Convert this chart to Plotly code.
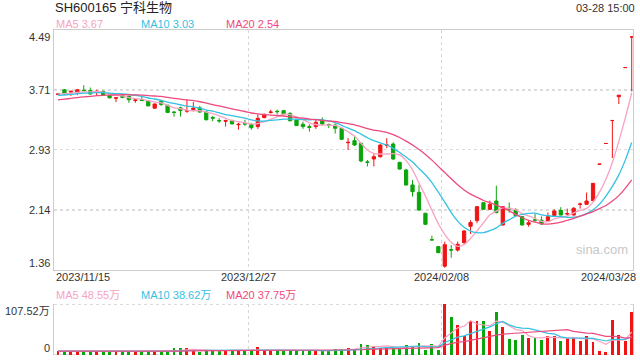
import plotly.graph_objects as go
import pandas as pd

# ---------------- data ----------------
x_labels = ["2023/11/15", "2023/12/27", "2024/02/08", "2024/03/28"]
x_label_pos = [0, 29.5, 59.5, 89]
y_ticks = [1.36, 2.14, 2.93, 3.71, 4.49]
vol_ticks = [0, 107.52]
vol_tick_text = ["0", "107.52万"]

open_ = [3.65, 3.71, 3.68, 3.67, 3.705, 3.70, 3.68, 3.69, 3.64, 3.60,
         3.635, 3.625, 3.57, 3.58, 3.56, 3.47, 3.56, 3.51, 3.42, 3.475,
         3.43, 3.45, 3.475, 3.42, 3.35, 3.31, 3.30, 3.31, 3.255, 3.27,
         3.26, 3.23, 3.347, 3.415, 3.43, 3.438, 3.40, 3.316, 3.26, 3.23,
         3.23, 3.316, 3.255, 3.25, 3.208, 3.02, 3.047, 3.012, 2.77, 2.808,
         2.838, 2.985, 3.003, 2.764, 2.664, 2.469, 2.373, 2.10, 1.755, 1.665,
         1.41, 1.625, 1.62, 1.717, 1.93, 2.004, 2.238, 2.151, 2.26, 1.947,
         2.165, 2.143, 2.056, 1.955, 2.015, 2.01, 2.00, 2.069, 2.138, 2.09,
         2.077, 2.215, 2.217, 2.264, 2.74, 3.01, 3.31, 3.62, 4.00, 4.40]
high = [3.66, 3.72, 3.70, 3.72, 3.77, 3.74, 3.71, 3.70, 3.645, 3.61,
        3.645, 3.63, 3.60, 3.62, 3.565, 3.53, 3.58, 3.51, 3.43, 3.49,
        3.58, 3.55, 3.50, 3.43, 3.37, 3.34, 3.32, 3.32, 3.28, 3.32,
        3.27, 3.39, 3.40, 3.45, 3.45, 3.44, 3.42, 3.32, 3.295, 3.26,
        3.32, 3.35, 3.27, 3.27, 3.21, 3.08, 3.10, 3.02, 2.795, 2.87,
        3.00, 3.08, 3.025, 2.77, 2.68, 2.534, 2.47, 2.10, 1.808, 1.67,
        1.73, 1.686, 1.73, 1.88, 2.01, 2.19, 2.24, 2.265, 2.46, 2.19,
        2.24, 2.165, 2.06, 2.01, 2.09, 2.06, 2.11, 2.15, 2.18, 2.16,
        2.18, 2.24, 2.37, 2.49, 2.74, 3.01, 3.31, 3.64, 4.00, 4.40]
low = [3.64, 3.65, 3.63, 3.64, 3.69, 3.65, 3.64, 3.63, 3.60, 3.55,
       3.60, 3.54, 3.54, 3.565, 3.50, 3.47, 3.50, 3.41, 3.36, 3.36,
       3.41, 3.43, 3.41, 3.31, 3.30, 3.28, 3.23, 3.26, 3.19, 3.24,
       3.19, 3.20, 3.34, 3.40, 3.39, 3.39, 3.295, 3.24, 3.20, 3.165,
       3.20, 3.25, 3.21, 3.14, 3.06, 2.925, 2.98, 2.764, 2.71, 2.71,
       2.825, 2.95, 2.795, 2.67, 2.46, 2.317, 2.13, 1.95, 1.752, 1.58,
       1.39, 1.52, 1.60, 1.70, 1.83, 1.97, 2.145, 2.143, 2.10, 1.94,
       2.108, 2.055, 1.94, 1.925, 1.99, 1.95, 1.99, 2.06, 2.073, 2.07,
       2.07, 2.16, 2.21, 2.26, 2.74, 3.01, 2.82, 3.525, 4.00, 3.69]
close = [3.655, 3.66, 3.69, 3.71, 3.70, 3.655, 3.69, 3.64, 3.605, 3.605,
         3.61, 3.58, 3.578, 3.57, 3.50, 3.525, 3.52, 3.415, 3.415, 3.44,
         3.44, 3.47, 3.42, 3.32, 3.34, 3.305, 3.308, 3.265, 3.26, 3.264,
         3.216, 3.338, 3.39, 3.42, 3.425, 3.395, 3.308, 3.243, 3.23, 3.22,
         3.286, 3.264, 3.25, 3.208, 3.064, 3.025, 2.99, 2.782, 2.764, 2.838,
         2.99, 2.99, 2.808, 2.677, 2.469, 2.382, 2.143, 1.956, 1.752, 1.586,
         1.69, 1.62, 1.695, 1.869, 1.98, 2.186, 2.151, 2.216, 2.108, 2.186,
         2.155, 2.069, 1.947, 1.977, 2.01, 1.96, 2.056, 2.13, 2.077, 2.095,
         2.165, 2.22, 2.26, 2.49, 2.74, 3.01, 3.31, 3.64, 4.00, 4.40]
# closes before the window, only used to seed the moving averages
prior_closes = [3.48, 3.50, 3.49, 3.52, 3.51, 3.53, 3.55, 3.54, 3.56, 3.55,
                3.60, 3.62, 3.61, 3.63, 3.64, 3.63, 3.66, 3.65, 3.67]

volume = [8.5, 7.1, 7.4, 7.0, 7.3, 8.4, 8.6, 7.2, 7.0, 8.5,
          7.1, 7.3, 8.4, 7.0, 8.6, 7.2, 7.1, 7.4, 14.1, 14.3,
          14.0, 8.5, 7.1, 8.6, 11.3, 11.0, 9.2, 9.0, 9.3, 9.1,
          10.6, 16.3, 9.2, 9.0, 9.3, 9.1, 9.2, 9.4, 9.0, 9.2,
          9.3, 8.5, 8.6, 12.7, 12.9, 14.8, 12.7, 23.3, 21.2, 17.7,
          15.6, 17.7, 15.6, 12.7, 21.2, 18.4, 26.2, 11.3, 23.3, 11.3,
          107.52, 79.2, 64.3, 40.3, 70.7, 72.1, 72.1, 51.6, 91.2, 59.4,
          33.9, 31.8, 43.1, 36.1, 36.8, 31.8, 40.3, 40.3, 29.7, 36.1,
          36.1, 29.7, 40.3, 27.6, 8.5, 6.4, 73.0, 42.4, 29.7, 91.0]
prior_volumes = [8.2, 7.9, 8.4, 8.0, 7.6, 8.3, 8.1, 7.8, 8.5, 8.0,
                 7.7, 8.2, 8.4, 7.9, 8.1, 8.0, 7.8, 8.3, 8.1]

title_text = "SH600165 宁科生物"
time_text = "03-28 15:00"
ma_labels = ["MA5 3.67", "MA10 3.03", "MA20 2.54"]
vol_ma_labels = ["MA5 48.55万", "MA10 38.62万", "MA20 37.75万"]
watermark = "sina.com"

# ---------------- styles ----------------
RED = "#f01414"
GREEN = "#0aa50a"
MA_COLORS = ["#f7a3c3", "#35c1e2", "#ee4a7c"]
GRID = "#d6d6d6"
FRAME = "#cccccc"
FONT = "Liberation Sans, Arial, Noto Sans CJK SC"
TXT = "#333333"

n = len(close)
xs = list(range(n))

all_close = pd.Series(prior_closes + close)
all_vol = pd.Series(prior_volumes + volume)
k = len(prior_closes)
ma_close = {p: all_close.rolling(p, min_periods=1).mean().tolist()[k:] for p in (5, 10, 20)}
ma_vol = {p: all_vol.rolling(p, min_periods=1).mean().tolist()[k:] for p in (5, 10, 20)}

vol_colors = []
prev = prior_closes[-1]
for o, c in zip(open_, close):
    up = c > o or (c == o and c >= prev)
    vol_colors.append(RED if up else GREEN)
    prev = c

fig = go.Figure()

fig.add_trace(go.Candlestick(
    x=xs, open=open_, high=high, low=low, close=close,
    increasing=dict(line=dict(color=RED, width=1), fillcolor=RED),
    decreasing=dict(line=dict(color=GREEN, width=1), fillcolor=GREEN),
    whiskerwidth=0, xaxis="x", yaxis="y", showlegend=False, hoverinfo="skip"))

for p, col in zip((5, 10, 20), MA_COLORS):
    fig.add_trace(go.Scatter(x=xs, y=ma_close[p], mode="lines",
                             line=dict(color=col, width=1.3, shape="spline", smoothing=0.6),
                             xaxis="x", yaxis="y", showlegend=False, hoverinfo="skip"))

fig.add_trace(go.Bar(x=xs, y=volume, marker=dict(color=vol_colors, line=dict(width=0)),
                     width=0.45, xaxis="x2", yaxis="y2", showlegend=False, hoverinfo="skip"))
for p, col in zip((5, 10, 20), MA_COLORS):
    fig.add_trace(go.Scatter(x=xs, y=ma_vol[p], mode="lines",
                             line=dict(color=col, width=1.2),
                             xaxis="x2", yaxis="y2", showlegend=False, hoverinfo="skip"))

XR = [-0.62, 89.2]
PL, PR, PT, PB = 54, 633, 30, 355
PW, PH = PR - PL, PB - PT
main_dom = [(PB - 270) / PH, 1]
vol_dom = [0, (PB - 304) / PH]

def px(x, y):
    return (x - PL) / PW, (PB - y) / PH

fig.update_layout(
    width=640, height=360,
    margin=dict(l=PL, r=640 - PR, t=PT, b=360 - PB),
    paper_bgcolor="white", plot_bgcolor="white",
    boxgap=0.28,
    bargap=0,
    xaxis=dict(domain=[0, 1], anchor="y", range=XR, tickvals=[29.5, 59.5],
               showticklabels=False, showgrid=True, gridcolor=GRID, griddash="dot",
               gridwidth=1, showline=True, mirror=True, linecolor=FRAME, linewidth=1,
               zeroline=False, rangeslider=dict(visible=False), fixedrange=True),
    yaxis=dict(domain=main_dom, anchor="x", range=[y_ticks[0], y_ticks[-1]],
               tickvals=y_ticks[1:-1], showticklabels=False, showgrid=True,
               gridcolor="#dcdcdc", griddash="dot", gridwidth=1.5, showline=True,
               mirror=True, linecolor=FRAME, linewidth=1, zeroline=False),
    xaxis2=dict(domain=[0, 1], anchor="y2", range=XR, tickvals=[29.5, 59.5],
                showticklabels=False, showgrid=True, gridcolor=GRID, griddash="dot",
                showline=False, zeroline=False),
    yaxis2=dict(domain=vol_dom, anchor="x2", range=[vol_ticks[0], vol_ticks[-1]],
                tickvals=[], showticklabels=False, showgrid=False, showline=True,
                mirror=True, linecolor=FRAME, linewidth=1, zeroline=False),
)

shapes = []
for v in vol_ticks:
    shapes.append(dict(type="line", xref="x2 domain", yref="y2", x0=0, x1=1, y0=v, y1=v,
                       line=dict(color="#d0d0d0", width=1.5, dash="dot"), layer="below"))
fig.update_layout(shapes=shapes)

ann = []
def add_text(text, x, y, xanchor="left", yanchor="middle", size=11, color=TXT,
             xref="paper", yref="paper", xshift=0, yshift=0):
    ann.append(dict(text=text, x=x, y=y, xref=xref, yref=yref, xanchor=xanchor,
                    yanchor=yanchor, showarrow=False, xshift=xshift, yshift=yshift,
                    font=dict(family=FONT, size=size, color=color), borderpad=0))

tx, ty = px(54, 8)
add_text(title_text, tx, ty, size=13, color="#222222")
tx, ty = px(636, 8)
add_text(time_text, tx, ty, xanchor="right", size=11)
for lab, col, xx in zip(ma_labels, MA_COLORS, (55, 140, 225)):
    a, b = px(xx, 24)
    add_text(lab, a, b, color=col)
for lab, col, xx in zip(vol_ma_labels, MA_COLORS, (55, 140, 225)):
    a, b = px(xx, 295)
    add_text(lab, a, b, color=col)

for i, v in enumerate(y_ticks):
    ya = "top" if i == len(y_ticks) - 1 else ("bottom" if i == 0 else "middle")
    add_text(f"{v:.2f}", 0, v, xanchor="right", yanchor=ya, yref="y", xshift=-3)
add_text(vol_tick_text[1], 0, vol_ticks[1], xanchor="right", yanchor="top", yref="y2", xshift=-3)
add_text(vol_tick_text[0], 0, vol_ticks[0], xanchor="right", yanchor="bottom", yref="y2", xshift=-3)

_, ly = px(0, 277)
for j, (lab, pos) in enumerate(zip(x_labels, x_label_pos)):
    if j == 0:
        add_text(lab, 0, ly, xanchor="left", xshift=1)
    elif j == len(x_labels) - 1:
        add_text(lab, 1, ly, xanchor="right", xshift=4)
    else:
        add_text(lab, pos, ly, xanchor="center", xref="x")

a, b = px(602, 249)
add_text(watermark, a, b, xanchor="center", size=13, color="#c8c8c8")

fig.update_layout(annotations=ann)
fig.write_html("out.html", config={"displayModeBar": False, "staticPlot": True},
               post_script="document.body.style.margin='0';document.body.style.overflow='hidden';")
